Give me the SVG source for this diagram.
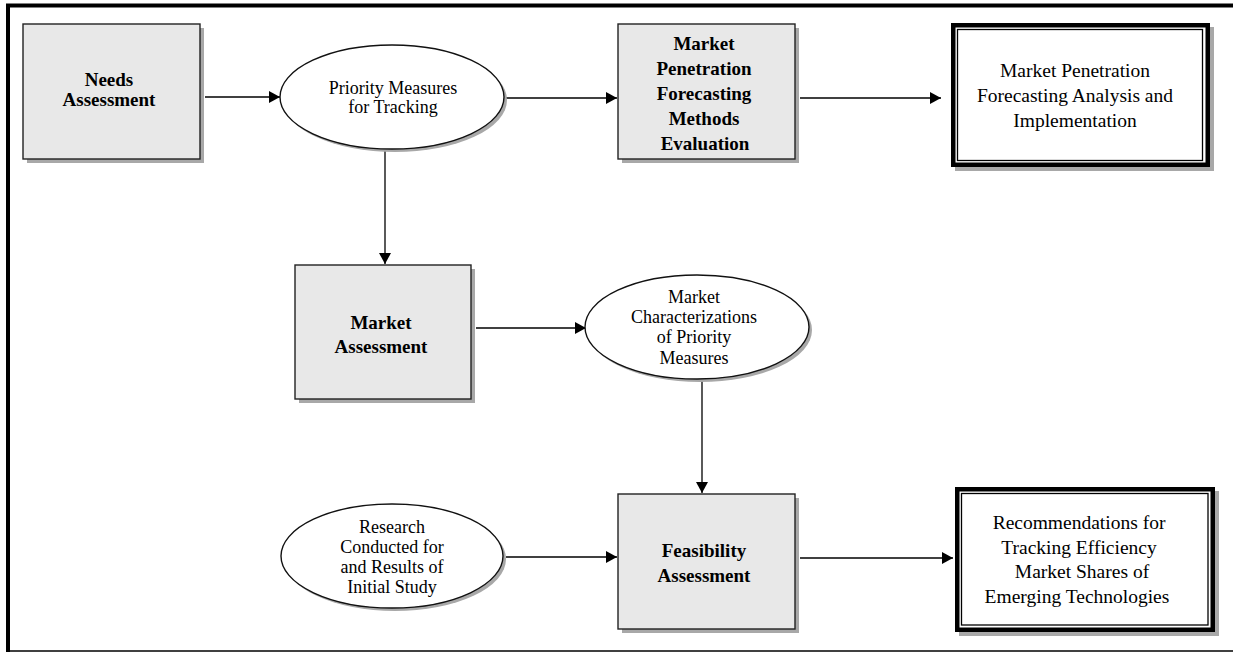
<svg xmlns="http://www.w3.org/2000/svg" width="1233" height="652" viewBox="0 0 1233 652">
  <style>
    .box { fill: #e8e8e8; stroke: #222; stroke-width: 1.4; }
    .shadow { fill: #a8a8a8; }
    .oval { fill: #ffffff; stroke: #111; stroke-width: 1.4; }
    .outer { fill: #ffffff; stroke: #000; stroke-width: 4.5; }
    .inner { fill: none; stroke: #000; stroke-width: 1.3; }
    .bold { font-family: "Liberation Serif", "Times New Roman", serif; font-size: 19px; font-weight: bold; fill: #000; text-anchor: middle; }
    .plain { font-family: "Liberation Serif", "Times New Roman", serif; font-size: 18px; fill: #000; text-anchor: middle; }
    .big { font-family: "Liberation Serif", "Times New Roman", serif; font-size: 19.5px; fill: #000; text-anchor: middle; }
    .conn { stroke: #000; stroke-width: 1.3; fill: none; marker-end: url(#arrow); }
  </style>
  <defs>
    <marker id="arrow" markerWidth="12" markerHeight="12" refX="11" refY="6" orient="auto" markerUnits="userSpaceOnUse">
      <path d="M0,0 L11,6 L0,12 Z" fill="#000"/>
    </marker>
  </defs>

  <rect width="1233" height="652" fill="#ffffff"/>

  <!-- page frame -->
  <g id="frame">
    <line x1="6" y1="5.5" x2="1233" y2="5.5" stroke="#000" stroke-width="4"/>
    <line x1="8" y1="4" x2="8" y2="652" stroke="#000" stroke-width="4"/>
    <line x1="6" y1="651" x2="1233" y2="651" stroke="#000" stroke-width="1.5"/>
  </g>

  <!-- connectors -->
  <g id="connectors">
    <line class="conn" x1="205" y1="97" x2="280" y2="97"/>
    <line class="conn" x1="505" y1="98" x2="617" y2="98"/>
    <line class="conn" x1="800" y1="98" x2="941" y2="98"/>
    <line class="conn" x1="385" y1="149" x2="385" y2="264"/>
    <line class="conn" x1="476" y1="328" x2="586" y2="328"/>
    <line class="conn" x1="702" y1="379" x2="702" y2="493"/>
    <line class="conn" x1="506" y1="557" x2="617" y2="557"/>
    <line class="conn" x1="800" y1="558" x2="953" y2="558"/>
  </g>

  <!-- Needs Assessment -->
  <g id="needs-assessment">
    <rect class="shadow" x="27" y="28" width="177" height="135"/>
    <rect class="box" x="23" y="24" width="177" height="135"/>
    <text class="bold" x="109" y="86">Needs</text>
    <text class="bold" x="109" y="106">Assessment</text>
  </g>

  <!-- Priority Measures for Tracking -->
  <g id="priority-measures">
    <ellipse class="shadow" cx="395" cy="100" rx="112" ry="52"/>
    <ellipse class="oval" cx="392" cy="97" rx="112" ry="52"/>
    <text class="plain" x="393" y="94">Priority Measures</text>
    <text class="plain" x="393" y="113">for Tracking</text>
  </g>

  <!-- Market Penetration Forecasting Methods Evaluation -->
  <g id="methods-evaluation">
    <rect class="shadow" x="622" y="28" width="177" height="135"/>
    <rect class="box" x="618" y="24" width="177" height="135"/>
    <text class="bold" x="704" y="50">Market</text>
    <text class="bold" x="704" y="75">Penetration</text>
    <text class="bold" x="704" y="100">Forecasting</text>
    <text class="bold" x="704" y="125">Methods</text>
    <text class="bold" x="705" y="150">Evaluation</text>
  </g>

  <!-- Market Penetration Forecasting Analysis and Implementation -->
  <g id="analysis-implementation">
    <rect class="shadow" x="955" y="27" width="259" height="144"/>
    <rect class="outer" x="953.25" y="25.25" width="254.5" height="139.5"/>
    <rect class="inner" x="957.5" y="29.5" width="245" height="131"/>
    <text class="big" x="1075" y="77">Market Penetration</text>
    <text class="big" x="1075" y="102">Forecasting Analysis and</text>
    <text class="big" x="1075" y="127">Implementation</text>
  </g>

  <!-- Market Assessment -->
  <g id="market-assessment">
    <rect class="shadow" x="299" y="269" width="176" height="134"/>
    <rect class="box" x="295" y="265" width="176" height="134"/>
    <text class="bold" x="381" y="329">Market</text>
    <text class="bold" x="381" y="353">Assessment</text>
  </g>

  <!-- Market Characterizations of Priority Measures -->
  <g id="market-characterizations">
    <ellipse class="shadow" cx="700" cy="330" rx="112" ry="52"/>
    <ellipse class="oval" cx="697" cy="327" rx="112" ry="52"/>
    <text class="plain" x="694" y="303">Market</text>
    <text class="plain" x="694" y="323">Characterizations</text>
    <text class="plain" x="694" y="343">of Priority</text>
    <text class="plain" x="694" y="364">Measures</text>
  </g>

  <!-- Research Conducted for and Results of Initial Study -->
  <g id="initial-study">
    <ellipse class="shadow" cx="395" cy="559" rx="111" ry="52"/>
    <ellipse class="oval" cx="392" cy="556" rx="111" ry="52"/>
    <text class="plain" x="392" y="533">Research</text>
    <text class="plain" x="392" y="553">Conducted for</text>
    <text class="plain" x="392" y="573">and Results of</text>
    <text class="plain" x="392" y="593">Initial Study</text>
  </g>

  <!-- Feasibility Assessment -->
  <g id="feasibility-assessment">
    <rect class="shadow" x="622" y="498" width="177" height="135"/>
    <rect class="box" x="618" y="494" width="177" height="135"/>
    <text class="bold" x="704" y="557">Feasibility</text>
    <text class="bold" x="704" y="582">Assessment</text>
  </g>

  <!-- Recommendations -->
  <g id="recommendations">
    <rect class="shadow" x="959" y="491" width="260" height="145"/>
    <rect class="outer" x="957.25" y="489.25" width="255.5" height="140.5"/>
    <rect class="inner" x="961.5" y="493.5" width="246.5" height="131.5"/>
    <text class="big" x="1079" y="529">Recommendations for</text>
    <text class="big" x="1079" y="554">Tracking Efficiency</text>
    <text class="big" x="1082" y="578">Market Shares of</text>
    <text class="big" x="1077" y="603">Emerging Technologies</text>
  </g>
</svg>
